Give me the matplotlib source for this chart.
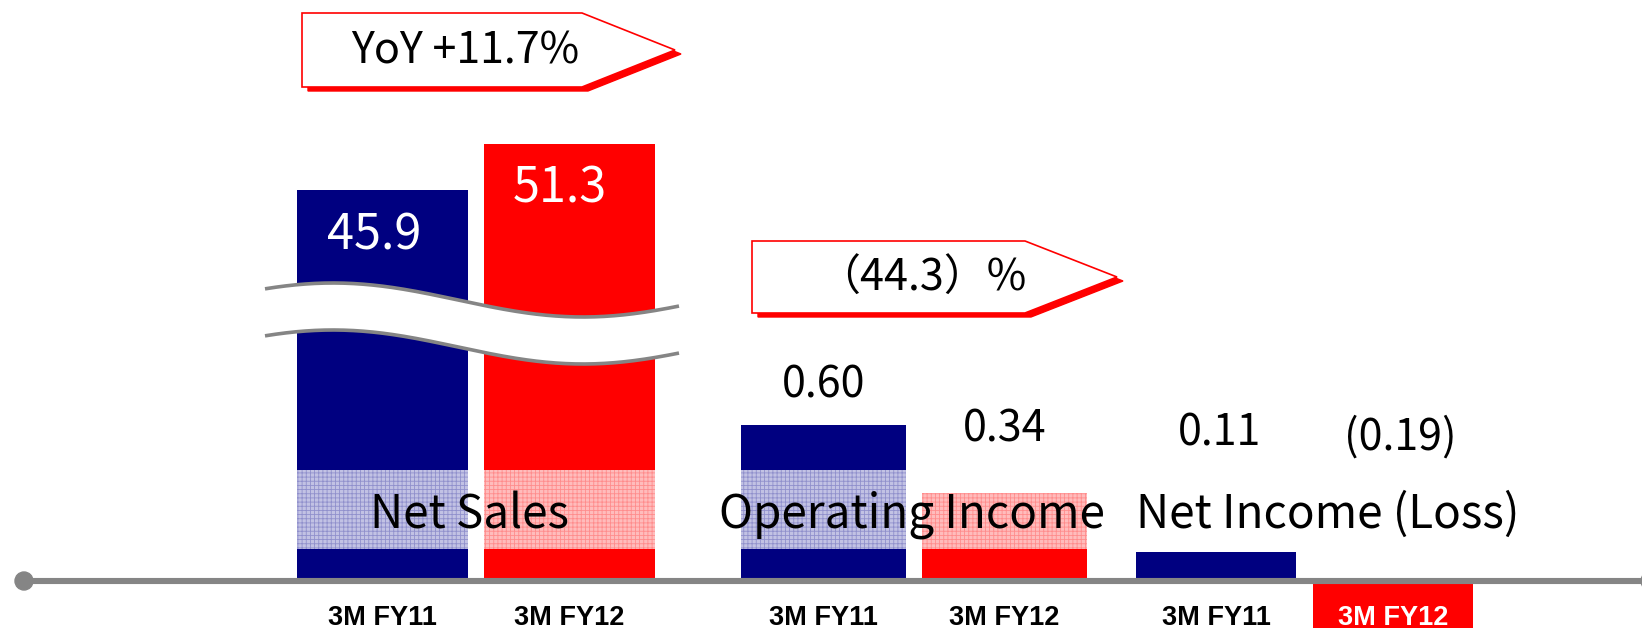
import matplotlib
matplotlib.use("Agg")
import matplotlib.pyplot as plt
import numpy as np
from matplotlib.patches import Polygon, Circle

# data (billions of yen)
groups = ["Net Sales", "Operating Income", "Net Income (Loss)"]
periods = ["3M FY11", "3M FY12"]
net_sales = [45.9, 51.3]
operating_income = [0.60, 0.34]
net_income = [0.11, -0.19]
value_labels = [["45.9", "51.3"], ["0.60", "0.34"], ["0.11", "(0.19)"]]
growth_labels = ["YoY +11.7%", "（44.3）%"]

NAVY = "#000080"
RED = "#ff0000"
GREY = "#858585"
JP = ["Noto Sans CJK JP", "DejaVu Sans"]

# layout in pixels of a 1642x628 canvas
W, H = 1642, 628
ZERO = 47            # axis line, px from bottom
PX_INC = 260         # px per unit, income axes
PX_NS = 8.52         # px per unit, net sales axes
bar_x = [[382, 569], [823, 1004], [1216, 1393]]
bar_w = [171, 165, 160]
band = ((H - 549 - ZERO) / PX_INC, (H - 470 - ZERO) / PX_INC)

fig = plt.figure(figsize=(W / 100, H / 100), dpi=100)

ax = fig.add_axes([0, 0, 1, 1])
ax2 = ax.twinx()
ax.set_xlim(0, W)
ax.set_ylim(-ZERO / PX_INC, (H - ZERO) / PX_INC)
ax2.set_ylim(-ZERO / PX_NS, (H - ZERO) / PX_NS)
ax2.set_zorder(1)
ax.set_zorder(2)
ax.patch.set_visible(False)
ax.axis("off")
ax2.axis("off")

colors = [NAVY, RED]
light = ["#c2c2e4", "#ffbcbc"]
hatchc = ["#9090cc", "#ff8c8c"]
plt.rcParams["hatch.linewidth"] = 0.6

# net sales on its own (broken) scale
for i in range(2):
    ax2.bar(bar_x[0][i], net_sales[i], bar_w[0], color=colors[i], linewidth=0)
# incomes
for g, vals in ((1, operating_income), (2, net_income)):
    for i in range(2):
        ax.bar(bar_x[g][i], vals[i], bar_w[g], color=colors[i], linewidth=0)

# light hatched band behind the category names
for g in range(3):
    for i in range(2):
        if g == 0:
            top = band[1]
        else:
            top = min([operating_income, net_income][g - 1][i], band[1])
        if top > band[0]:
            ax.bar(bar_x[g][i], top - band[0], bar_w[g], bottom=band[0],
                   color=light[i], hatch="++++", edgecolor=hatchc[i], linewidth=0)

# overlay in pixel coords (y down)
ov = fig.add_axes([0, 0, 1, 1])
ov.set_zorder(10)
ov.set_xlim(0, W)
ov.set_ylim(H, 0)
ov.axis("off")
ov.patch.set_visible(False)

# scale break across the net sales bars
xs = np.linspace(265, 679, 300)
yu = 300 - 17 * np.cos(2 * np.pi * (xs - 333) / 500)
ov.fill_between(xs, yu, yu + 47, color="white", linewidth=0)
ov.plot(xs, yu, color=GREY, lw=2.6, solid_capstyle="butt")
ov.plot(xs, yu + 47, color=GREY, lw=2.6, solid_capstyle="butt")

# baseline with round ends
ov.plot([24, W], [581, 581], color=GREY, lw=4.4, solid_capstyle="butt")
ov.add_patch(Circle((24, 581), 9, color=GREY))
ov.add_patch(Circle((1650, 581), 9, color=GREY))

# growth callouts
callouts = [(302, 13, 87, 582, 675, 465), (752, 241, 313, 1025, 1117, 922)]
for (l, t, b, r, tip, tx), txt in zip(callouts, growth_labels):
    pts = [(l, t), (r, t), (tip, (t + b) / 2), (r, b), (l, b)]
    shadow = [(x + 6, y + 4) for x, y in pts]
    ov.add_patch(Polygon(shadow, closed=True, facecolor=RED, edgecolor=RED, lw=1))
    ov.add_patch(Polygon(pts, closed=True, facecolor="white", edgecolor=RED, lw=1.2))
    ov.text(tx, (t + b) / 2 + 2, txt, ha="center", va="center", fontsize=31,
            family=JP, color="black")

# value labels
ov.text(374, 236, value_labels[0][0], ha="center", va="center", fontsize=35,
        family=JP, color="white")
ov.text(560, 189, value_labels[0][1], ha="center", va="center", fontsize=35,
        family=JP, color="white")
small_pos = [(824, 386), (1005, 429), (1220, 434), (1400, 438)]
small_txt = value_labels[1] + value_labels[2]
for (x, y), s in zip(small_pos, small_txt):
    ov.text(x, y, s, ha="center", va="center", fontsize=31, family=JP)

# category names
for (x, y), name in zip([(470, 515), (912, 515), (1328, 515)], groups):
    ov.text(x, y, name, ha="center", va="center", fontsize=33, family=JP)

# period labels under the axis
for g in range(3):
    for i in range(2):
        c = "white" if (g == 2 and i == 1) else "black"
        ov.text(bar_x[g][i], 618, periods[i], ha="center", va="center",
                fontsize=19.5, fontweight="bold", family="Liberation Sans", color=c)

fig.savefig("out.png", dpi=100)
